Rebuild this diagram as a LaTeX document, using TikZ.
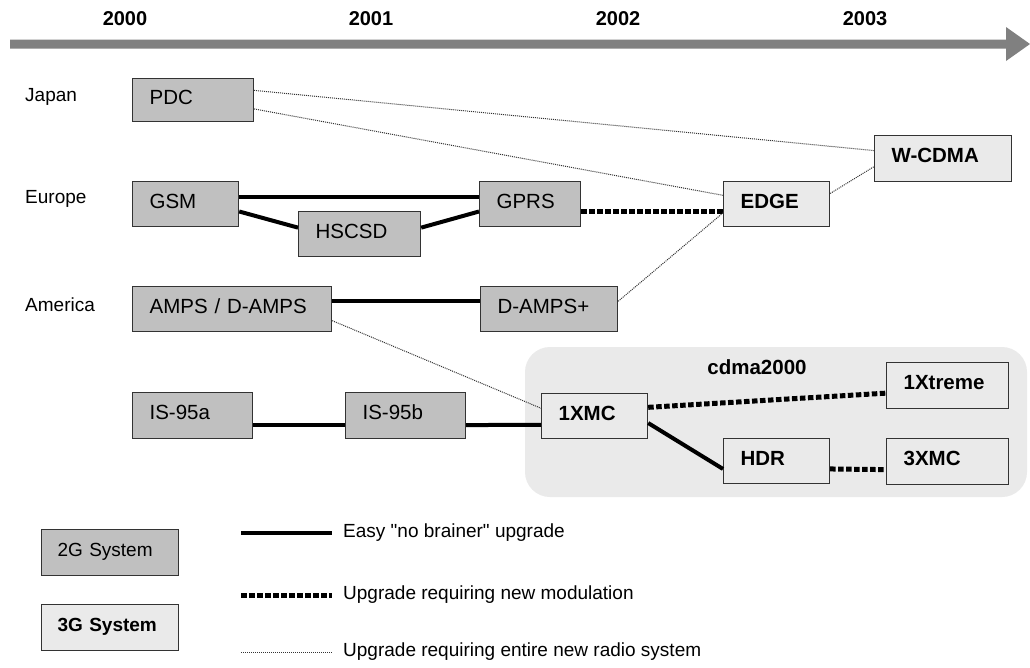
\documentclass[tikz,border=0pt]{standalone}
\usepackage{fontspec}
\setmainfont{Liberation Sans}
\newfontfamily\plainsans{Liberation Sans}
\usetikzlibrary{calc}
\definecolor{twog}{HTML}{C0C0C0}
\definecolor{threeg}{HTML}{EAEAEA}
\definecolor{regionc}{HTML}{EAEAEA}
\definecolor{edgec}{HTML}{333333}
\definecolor{arrowc}{HTML}{808080}
\definecolor{thinc}{HTML}{333333}
\newcommand\fsbox{\fontsize{20.5}{24}\selectfont}
\newcommand\fslab{\fontsize{19}{22}\selectfont}
\begin{document}
\begin{tikzpicture}[x=1pt,y=-1pt,
  sysbox/.style={draw=edgec, line width=1.2pt, rectangle, inner xsep=17pt, inner ysep=0pt,
    text height=15pt, text depth=7pt, align=left, anchor=north west, font=\fsbox},
  twobox/.style={sysbox, fill=twog},
  threebox/.style={sysbox, fill=threeg, font=\fsbox\bfseries},
  easy/.style={line width=4pt, black},
  modu/.style={line width=5pt, black, dash pattern=on 5.5pt off 2.5pt},
  radio/.style={line width=1pt, thinc, dash pattern=on 1pt off 1pt},
  yearlab/.style={font=\fontsize{20}{24}\selectfont\bfseries, inner sep=0pt},
  regionlab/.style={font=\fslab, anchor=west, inner sep=0pt},
  legtext/.style={font=\plainsans\fslab, anchor=west, inner xsep=9pt, inner ysep=0pt}
]
\useasboundingbox (0,0) rectangle (1030,667);
\fill[white] (0,0) rectangle (1030,667);

% timeline
\fill[arrowc] (10,39.5) -- (1006,39.5) -- (1006,27) -- (1030,44) -- (1006,61) -- (1006,48.5) -- (10,48.5) -- cycle;
\node[yearlab] (y2000) at (125,19) {2000};
\node[yearlab] (y2001) at (371,19) {2001};
\node[yearlab] (y2002) at (618,19) {2002};
\node[yearlab] (y2003) at (865,19) {2003};

% region labels
\node[regionlab] (japan) at (25,97) {Japan};
\node[regionlab] (europe) at (25,199) {Europe};
\node[regionlab] (america) at (25,305) {America};

% cdma2000 region
\fill[regionc, rounded corners=25pt] (525,347) rectangle (1027,497);
\node[font=\fsbox\bfseries, inner sep=0pt] (cdma) at (757,367) {cdma2000};

% systems
\node[twobox, text width=87pt, minimum height=43pt] (pdc) at (132,78) {PDC};
\node[twobox, text width=72pt, minimum height=45pt] (gsm) at (132,181) {GSM};
\node[twobox, text width=88pt, minimum height=45pt] (hscsd) at (298,211) {HSCSD};
\node[twobox, text width=67pt, minimum height=45pt] (gprs) at (479,181) {GPRS};
\node[threebox, text width=72pt, minimum height=45pt] (edge) at (723,181) {EDGE};
\node[threebox, text width=103pt, minimum height=46pt] (wcdma) at (874,135) {W-CDMA};
\node[twobox, text width=165pt, minimum height=45pt] (amps) at (132,286) {AMPS / D-AMPS};
\node[twobox, text width=103pt, minimum height=45pt] (damps) at (480,286) {D-AMPS+};
\node[twobox, text width=86pt, minimum height=46pt] (isa) at (132,392) {IS-95a};
\node[twobox, text width=86pt, minimum height=46pt] (isb) at (345,392) {IS-95b};
\node[threebox, text width=72pt, minimum height=45pt] (xmc) at (541,393) {1XMC};
\node[threebox, text width=88pt, minimum height=46pt] (xtreme) at (886,362) {1Xtreme};
\node[threebox, text width=72pt, minimum height=45pt] (hdr) at (723,438) {HDR};
\node[threebox, text width=88pt, minimum height=46pt] (xmcthree) at (886,438) {3XMC};

% connectors
\draw[easy] ($(gsm.north east)!0.34!(gsm.south east)$) -- ($(gprs.north west)!0.34!(gprs.south west)$);
\draw[easy] ($(gsm.north east)!0.66!(gsm.south east)$) -- ($(hscsd.north west)!0.36!(hscsd.south west)$);
\draw[easy] ($(hscsd.north east)!0.36!(hscsd.south east)$) -- ($(gprs.north west)!0.66!(gprs.south west)$);
\draw[modu] ($(gprs.north east)!0.65!(gprs.south east)$) -- ($(edge.north west)!0.65!(edge.south west)$);
\draw[radio] ($(pdc.north east)!0.28!(pdc.south east)$) -- ($(wcdma.north west)!0.33!(wcdma.south west)$);
\draw[radio] ($(pdc.north east)!0.70!(pdc.south east)$) -- ($(edge.north west)!0.31!(edge.south west)$);
\draw[radio] ($(edge.north east)!0.27!(edge.south east)$) -- ($(wcdma.north west)!0.67!(wcdma.south west)$);
\draw[radio] ($(damps.north east)!0.33!(damps.south east)$) -- ($(edge.north west)!0.69!(edge.south west)$);
\draw[easy] ($(amps.north east)!0.33!(amps.south east)$) -- ($(damps.north west)!0.33!(damps.south west)$);
\draw[radio] ($(amps.north east)!0.75!(amps.south east)$) -- ($(xmc.north west)!0.33!(xmc.south west)$);
\draw[easy] ($(isa.north east)!0.70!(isa.south east)$) -- ($(isb.north west)!0.70!(isb.south west)$);
\draw[easy] ($(isb.north east)!0.70!(isb.south east)$) -- ($(xmc.north west)!0.69!(xmc.south west)$);
\draw[modu] ($(xmc.north east)!0.31!(xmc.south east)$) -- ($(xtreme.north west)!0.66!(xtreme.south west)$);
\draw[easy] ($(xmc.north east)!0.65!(xmc.south east)$) -- ($(hdr.north west)!0.67!(hdr.south west)$);
\draw[modu] ($(hdr.north east)!0.67!(hdr.south east)$) -- ($(xmcthree.north west)!0.67!(xmcthree.south west)$);

% legend
\node[twobox, font=\fslab, inner xsep=16pt, text width=105pt, minimum height=46pt] (leg2g) at (41,529) {2G System};
\node[threebox, font=\fslab\bfseries, inner xsep=16pt, text width=105pt, minimum height=46pt] (leg3g) at (41,604) {3G System};
\coordinate (la) at (241,533);
\coordinate (lb) at (241,595);
\coordinate (lc) at (241,652);
\node[legtext] (legeasy) at (334,533) {Easy "no brainer" upgrade};
\node[legtext] (legmodu) at (334,595) {Upgrade requiring new modulation};
\node[legtext] (legradio) at (334,652) {Upgrade requiring entire new radio system};
\draw[easy] (la) -- ([xshift=-2pt]legeasy.west);
\draw[modu] (lb) -- ([xshift=-2pt]legmodu.west);
\draw[radio] (lc) -- ([xshift=-2pt]legradio.west);
\end{tikzpicture}
\end{document}
